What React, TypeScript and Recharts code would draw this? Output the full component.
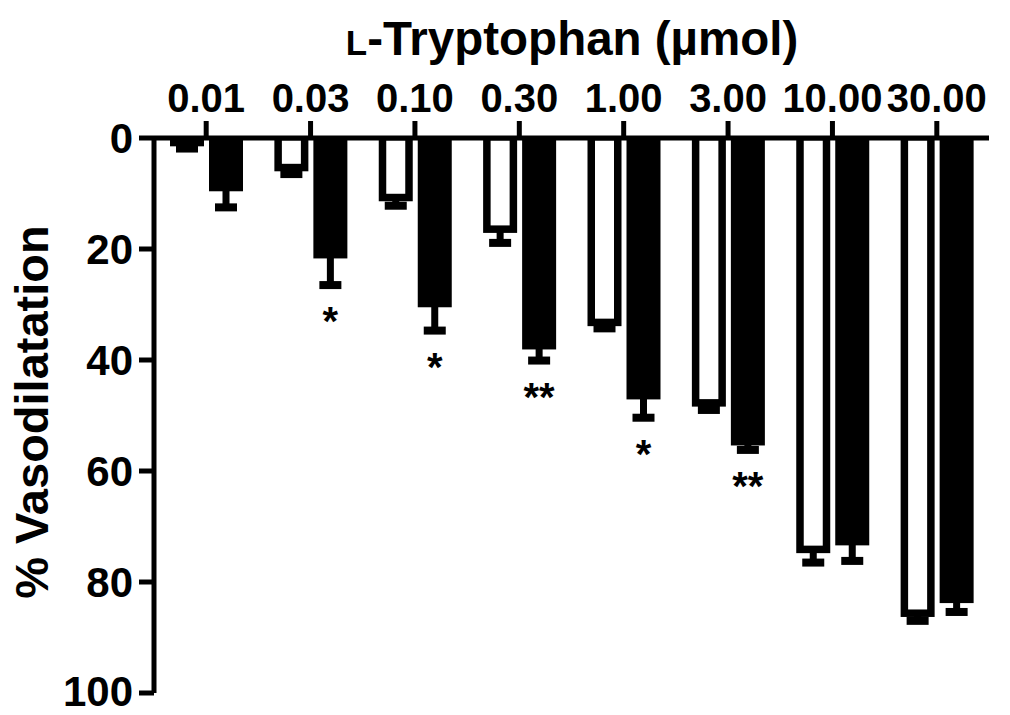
import { Bar, BarChart, XAxis, YAxis } from 'recharts';

// Cumulative doses of L-tryptophan, in µmol
const doses = ['0.01', '0.03', '0.10', '0.30', '1.00', '3.00', '10.00', '30.00'];

// Open bars: mean % vasodilatation and SEM
const openMean = [1.5, 6.0, 11.4, 17.1, 33.9, 48.4, 74.8, 86.3];
const openSem = [0.4, 0.5, 0.8, 1.8, 0.4, 0.6, 1.7, 0.7];

// Filled bars: mean % vasodilatation and SEM
const solidMean = [9.6, 21.7, 30.5, 38.1, 47.1, 55.4, 73.4, 83.8];
const solidSem = [2.9, 4.8, 4.2, 2.0, 3.3, 0.8, 2.8, 1.6];
const solidSig = ['', '*', '*', '**', '*', '**', '', ''];

const yTicks = [0, 20, 40, 60, 80, 100];

const data = doses.map((dose, i) => ({
  dose,
  open: openMean[i],
  openErr: openSem[i],
  solid: solidMean[i],
  solidErr: solidSem[i],
  sig: solidSig[i],
}));

const FONT = '"Liberation Sans", Arial, Helvetica, sans-serif';
const INK = '#000';
const AXIS_W = 5;
const BORDER = 7.5;
const STEM_W = 7;
const CAP_W = 22;
const CAP_H = 8;

// Bar + one-sided error bar (pointing away from zero). Pixel positions come
// from the rect Recharts hands us, so everything follows the y scale.
function barShape(kind: 'open' | 'solid') {
  return (props: any) => {
    const { x, y, width, height, payload } = props;
    const mean = payload[kind] as number;
    const sem = payload[`${kind}Err`] as number;
    const base = y + height; // scale(0)
    const perUnit = (y - base) / mean;
    const errPx = base + (mean + sem) * perUnit;
    const top = Math.min(base, y);
    const bottom = Math.max(base, y);
    const cx = x + width / 2;
    const innerH = bottom - top - BORDER - AXIS_W / 2;

    return (
      <g>
        <rect x={cx - STEM_W / 2} y={bottom - 1} width={STEM_W} height={errPx - bottom + 1} fill={INK} />
        <rect x={cx - CAP_W / 2} y={errPx - CAP_H / 2} width={CAP_W} height={CAP_H} fill={INK} />
        <rect x={x} y={top} width={width} height={bottom - top} fill={INK} />
        {kind === 'open' && innerH > 0 && (
          <rect
            x={x + BORDER}
            y={top + AXIS_W / 2}
            width={width - 2 * BORDER}
            height={innerH}
            fill="#fff"
          />
        )}
        {kind === 'solid' && payload.sig && (
          <text
            x={cx}
            y={errPx + 50}
            textAnchor="middle"
            fontFamily={FONT}
            fontWeight="bold"
            fontSize={40}
            fill={INK}
          >
            {payload.sig}
          </text>
        )}
      </g>
    );
  };
}

const xTickStyle = { fontFamily: FONT, fontWeight: 'bold', fontSize: 40, fill: INK };
const yTickStyle = { fontFamily: FONT, fontWeight: 'bold', fontSize: 42, fill: INK };

export default function App() {
  return (
    <div style={{ width: 1002, height: 707 }}>
      <BarChart
        width={1002}
        height={707}
        data={data}
        barSize={34}
        barGap={5}
        margin={{ top: 0, right: 21, bottom: 22, left: 0 }}
      >
        <text x={564} y={47} textAnchor="middle" fontFamily={FONT} fontWeight="bold" fontSize={47.5} fill={INK}>
          <tspan fontSize={35}>L</tspan>-Tryptophan (µmol)
        </text>
        <text
          x={40}
          y={404}
          transform="rotate(-90, 40, 404)"
          textAnchor="middle"
          fontFamily={FONT}
          fontWeight="bold"
          fontSize={47}
          fill={INK}
        >
          % Vasodilatation
        </text>
        <XAxis
          dataKey="dose"
          orientation="top"
          height={130}
          interval={0}
          tickSize={17}
          tickMargin={9}
          axisLine={{ stroke: INK, strokeWidth: AXIS_W }}
          tickLine={{ stroke: INK, strokeWidth: AXIS_W }}
          tick={xTickStyle}
        />
        <YAxis
          type="number"
          reversed
          domain={[0, 100]}
          ticks={yTicks}
          width={146}
          tickSize={15}
          tickMargin={6}
          axisLine={{ stroke: INK, strokeWidth: AXIS_W }}
          tickLine={{ stroke: INK, strokeWidth: AXIS_W }}
          tick={yTickStyle}
        />
        <Bar dataKey="open" shape={barShape('open')} isAnimationActive={false} />
        <Bar dataKey="solid" shape={barShape('solid')} isAnimationActive={false} />
      </BarChart>
    </div>
  );
}
